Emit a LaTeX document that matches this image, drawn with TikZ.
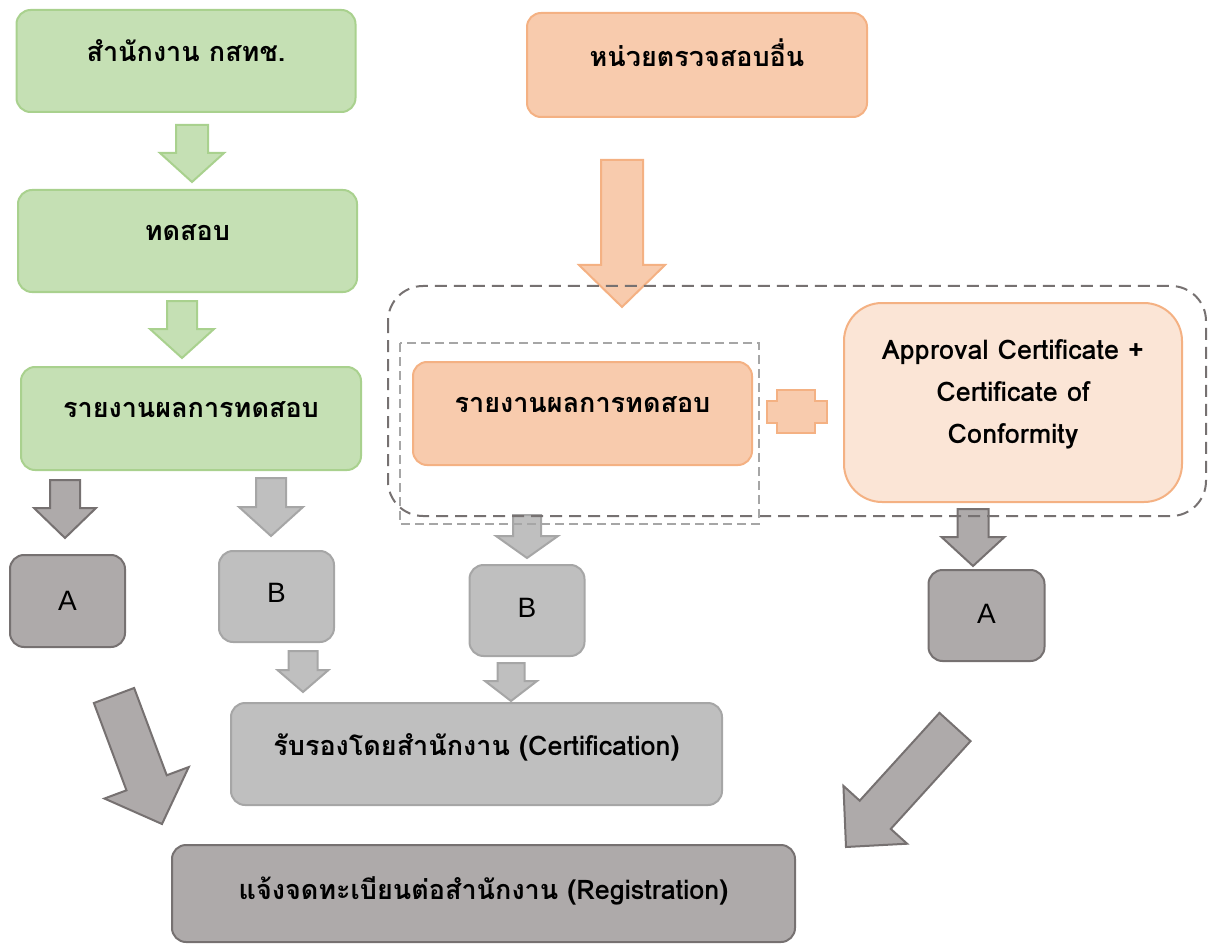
\documentclass[tikz,border=0pt]{standalone}
\usepackage{fontspec}
\setmainfont{Loma}[Script=Thai]
\newfontfamily\latinfont{Liberation Sans}
\usetikzlibrary{calc}
\definecolor{grnfill}{HTML}{C5E0B4}
\definecolor{grnline}{HTML}{A9D18E}
\definecolor{orgfill}{HTML}{F8CBAD}
\definecolor{orgline}{HTML}{F4B183}
\definecolor{peach}{HTML}{FBE5D6}
\definecolor{dkfill}{HTML}{AEAAAA}
\definecolor{dkline}{HTML}{767171}
\definecolor{ltfill}{HTML}{BFBFBF}
\definecolor{ltline}{HTML}{A6A6A6}
\tikzset{
	box/.style={rectangle,rounded corners=14pt,line width=2pt,inner sep=0pt,outer sep=0pt,align=center,font=\fontsize{27}{32}\selectfont\bfseries},
	gbox/.style={box,draw=grnline,fill=grnfill,minimum width=339pt,minimum height=102pt},
	obox/.style={box,draw=orgline,fill=orgfill,minimum width=339pt,minimum height=103pt},
	pbox/.style={box,draw=orgline,fill=peach,rounded corners=38pt,minimum width=338pt,minimum height=199pt},
	abox/.style={box,draw=dkline,fill=dkfill,minimum width=115pt,minimum height=92pt,font=\fontsize{28}{32}\selectfont\latinfont},
	bbox/.style={box,draw=ltline,fill=ltfill,minimum width=115pt,minimum height=91pt,font=\fontsize{28}{32}\selectfont\latinfont},
	garr/.style={draw=grnline,fill=grnfill,line width=2pt},
	oarr/.style={draw=orgline,fill=orgfill,line width=2pt},
	aarr/.style={draw=dkline,fill=dkfill,line width=2pt},
	barr/.style={draw=ltline,fill=ltfill,line width=2pt}
}
% block arrow: [style] {tail} {tip} {half shaft} {half head} {head length}
\newcommand{\blockarr}[6][]{%
	\coordinate (ba-t) at #2;
	\coordinate (ba-h) at #3;
	\coordinate (ba-b) at ($(ba-h)!#6!(ba-t)$);
	\filldraw[#1] ($(ba-t)!#4!90:(ba-h)$) -- ($(ba-b)!#4!90:(ba-h)$) -- ($(ba-b)!#5!90:(ba-h)$) -- (ba-h)
		-- ($(ba-b)!#5!-90:(ba-h)$) -- ($(ba-b)!#4!-90:(ba-h)$) -- ($(ba-t)!#4!-90:(ba-h)$) -- cycle;
}

\begin{document}
\begin{tikzpicture}[x=1pt,y=-1pt]
	\useasboundingbox (0,0) rectangle (1208,944);

	\node[gbox] (ofc) at (186,61) {\raisebox{20pt}{สำนักงาน กสทช.}};
	\node[gbox] (tst) at (187.5,241) {\raisebox{16pt}{ทดสอบ}};
	\node[gbox,minimum width=340pt,minimum height=103pt] (rep) at (191,418.5) {\raisebox{18pt}{รายงานผลการทดสอบ}};
	\node[obox,minimum width=340pt,minimum height=104pt] (oth) at (697,65) {\raisebox{24pt}{หน่วยตรวจสอบอื่น}};
	\node[obox] (orep) at (582.5,413.5) {\raisebox{18pt}{รายงานผลการทดสอบ}};
	\node[pbox] (appr) at (1013,402.5) {\raisebox{32pt}{\fontsize{27}{42}\selectfont\begin{tabular}[b]{@{}c@{}}Approval Certificate +\\Certificate of\\Conformity\end{tabular}}};

	\node[abox] (a1) at (67.5,601) {A};
	\node[bbox] (b1) at (276.5,596.5) {\raisebox{8pt}{B}};
	\node[bbox] (b2) at (527,610.5) {\raisebox{6pt}{B}};
	\node[abox,minimum width=116pt,minimum height=91pt] (a2) at (986.5,615.5) {\raisebox{4pt}{A}};

	\node[box,draw=ltline,fill=ltfill,minimum width=491pt,minimum height=102pt] (certf) at (476.5,754) {\raisebox{20pt}{รับรองโดยสำนักงาน (Certification)}};
	\node[box,draw=dkline,fill=dkfill,minimum width=623pt,minimum height=97pt] (reg) at (483.5,893.5) {\raisebox{10pt}{แจ้งจดทะเบียนต่อสำนักงาน (Registration)}};

	\blockarr[garr]{($(ofc.south)+(6,13)$)}{($(tst.north)+(4.5,-8)$)}{16pt}{32pt}{29pt}
	\blockarr[garr]{($(tst.south)+(-5.5,9)$)}{($(rep.north)+(-9,-9)$)}{15pt}{32pt}{29pt}
	\blockarr[aarr]{($(rep.south west)+(44,10)$)}{($(a1.north)+(-2.5,-17)$)}{15pt}{31pt}{30pt}
	\blockarr[barr]{($(rep.south)+(80,8)$)}{($(b1.north)+(-5.5,-15)$)}{15pt}{32pt}{29pt}
	\blockarr[barr]{($(b1.south)+(26.5,9)$)}{($(certf.north west)+(72,-11)$)}{14.5pt}{25.5pt}{22pt}
	\blockarr[oarr]{($(oth.south)+(-75,43)$)}{($(orep.north)+(39.5,-55)$)}{21pt}{43pt}{42pt}
	\blockarr[barr]{($(orep.south)+(-55.5,50)$)}{($(b2.north)+(0,-7)$)}{14pt}{31pt}{22pt}
	\blockarr[barr]{($(b2.south)+(-16,7)$)}{($(certf.north)+(34.5,-2)$)}{13.5pt}{26pt}{20pt}
	\blockarr[aarr]{($(appr.south)+(-40,7)$)}{($(a2.north)+(-13.5,-4)$)}{15.5pt}{31.5pt}{29pt}
	\blockarr[aarr]{($(a1.south)+(46.5,48.5)$)}{($(reg.north west)+(-10,-21)$)}{21.5pt}{45pt}{44pt}
	\blockarr[aarr]{($(a2.south)+(-31.5,66)$)}{($(reg.north east)+(51,2)$)}{21pt}{43pt}{43.5pt}

	\filldraw[oarr] (767,401) -- (777,401) -- (777,390) -- (815,390) -- (815,401) -- (827,401) -- (827,423)
		-- (815,423) -- (815,433) -- (777,433) -- (777,423) -- (767,423) -- cycle;

	\draw[dkline,line width=2pt,dash pattern=on 12pt off 7pt,rounded corners=35pt] (388,286) rectangle (1206,516);
	\draw[ltline,line width=2pt,dash pattern=on 9pt off 5pt] (400,343) rectangle (759,524);
\end{tikzpicture}
\end{document}
